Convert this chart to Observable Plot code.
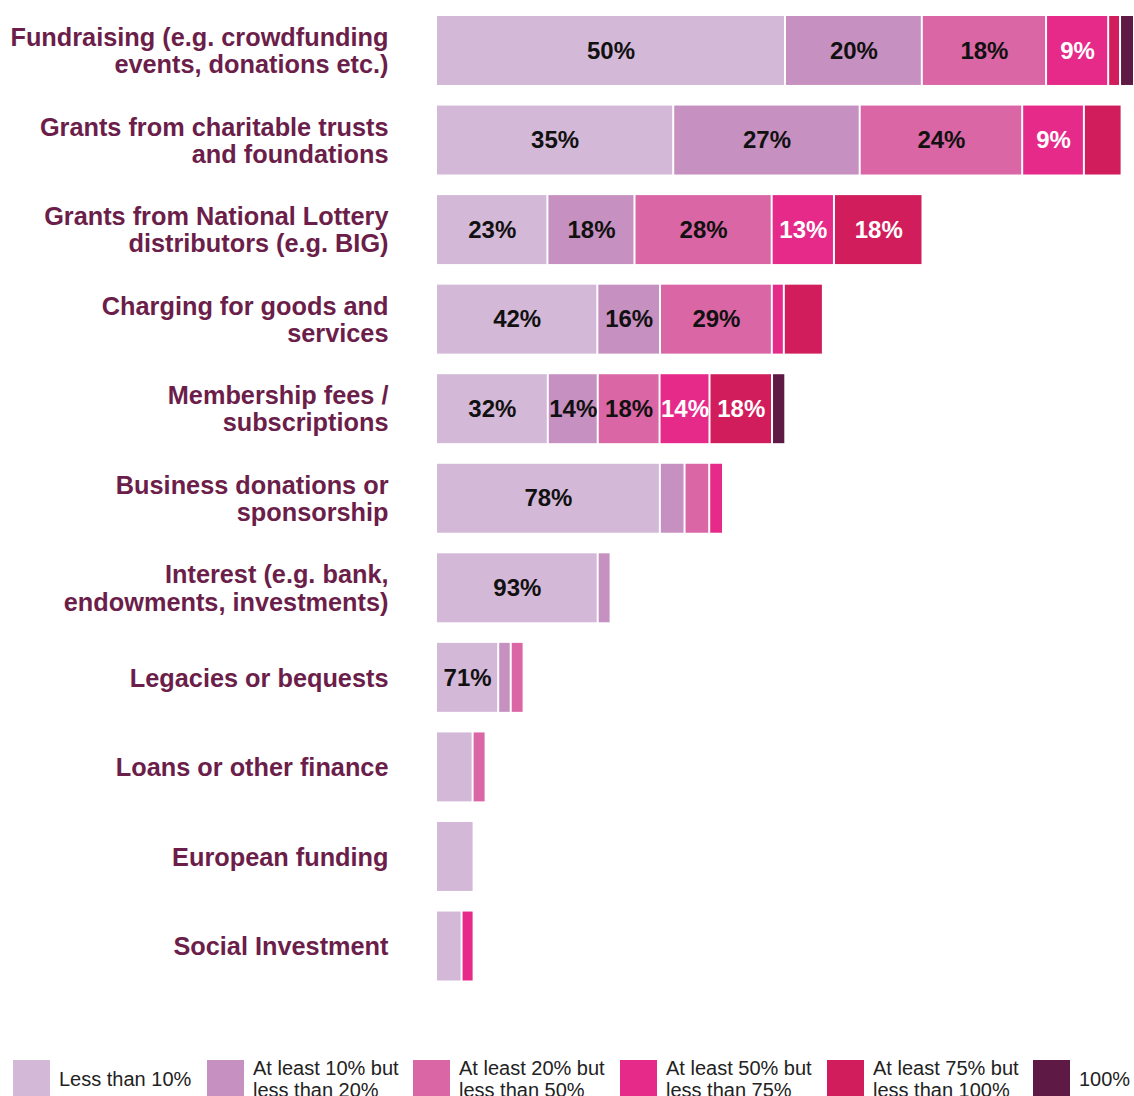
<!DOCTYPE html>
<html>
<head>
<meta charset="utf-8">
<script src="https://cdn.jsdelivr.net/npm/d3@7"></script>
<script src="https://cdn.jsdelivr.net/npm/@observablehq/plot@0.6"></script>
<style>
  html, body { margin: 0; padding: 0; background: #fff; }
  body { font-family: "Liberation Sans", Arial, sans-serif; width: 1134px; overflow: hidden; }
  #legend { position: relative; height: 60px; }
  .item { position: absolute; top: 20px; display: flex; align-items: center; height: 37px; }
  .sw { width: 37px; height: 37px; flex: none; }
  .lab { margin-left: 9px; font-size: 20px; line-height: 22px; color: #222; }
</style>
</head>
<body>
<div id="chart"></div>
<div id="legend"></div>
<script>
const categories = [
  "Less than 10%",
  "At least 10% but less than 20%",
  "At least 20% but less than 50%",
  "At least 50% but less than 75%",
  "At least 75% but less than 100%",
  "100%"
];
const legendLabels = [
  "Less than 10%",
  "At least 10% but\nless than 20%",
  "At least 20% but\nless than 50%",
  "At least 50% but\nless than 75%",
  "At least 75% but\nless than 100%",
  "100%"
];
const colors = ["#d4b8d8", "#c690c0", "#db66a5", "#e52a8a", "#d11d5b", "#5e1a44"];

const sources = [
  "Fundraising (e.g. crowdfunding\nevents, donations etc.)",
  "Grants from charitable trusts\nand foundations",
  "Grants from National Lottery\ndistributors (e.g. BIG)",
  "Charging for goods and\nservices",
  "Membership fees /\nsubscriptions",
  "Business donations or\nsponsorship",
  "Interest (e.g. bank,\nendowments, investments)",
  "Legacies or bequests",
  "Loans or other finance",
  "European funding",
  "Social Investment"
];
// relative number of organisations using each source (bar length)
const totals = [698, 685.6, 486.5, 386.9, 349.3, 287, 174.6, 87.6, 49.6, 37.6, 37.6];
// share (%) of those organisations, by proportion of income from the source
const shareLess10   = [50.0, 34.6, 22.9, 41.7, 32.0, 78.0, 92.6, 71.0, 73.8, 100, 68];
const share10to20   = [19.6, 27.2, 17.9, 16.2, 14.3, 8.6, 7.4, 14.3, 0, 0, 0];
const share20to50   = [17.8, 23.7, 28.2, 28.9, 17.7, 8.6, 0, 14.7, 26.2, 0, 0];
const share50to75   = [8.9, 9.0, 12.8, 3.1, 14.3, 4.8, 0, 0, 0, 0, 32];
const share75to100  = [1.7, 5.5, 18.2, 10.1, 17.9, 0, 0, 0, 0, 0, 0];
const share100      = [2.0, 0, 0, 0, 3.8, 0, 0, 0, 0, 0, 0];

const shareSeries = [shareLess10, share10to20, share20to50, share50to75, share75to100, share100];
const whiteText = new Set([categories[3], categories[4]]);
const minLabelWidth = 45;

const data = [];
sources.forEach((s, i) => {
  shareSeries.forEach((arr, j) => {
    const share = arr[i];
    if (share > 0) data.push({source: s, cat: categories[j], share, value: share * totals[i] / 100});
  });
});

const font = '"Liberation Sans", Arial, sans-serif';
const labelText = (white) => d =>
  (d.value >= minLabelWidth && whiteText.has(d.cat) === white) ? Math.round(d.share) + "%" : "";

const plot = Plot.plot({
  width: 1134,
  height: 1040,
  marginLeft: 437,
  marginRight: 0,
  marginTop: 5.7,
  marginBottom: 49.2,
  style: {fontFamily: font, background: "#fff"},
  x: {domain: [0, 697], axis: null},
  y: {domain: sources, paddingInner: 0.23, paddingOuter: 0.115, round: false, axis: null},
  color: {domain: categories, range: colors},
  marks: [
    Plot.barX(data, Plot.stackX({x: "value", y: "source", fill: "cat", order: categories, insetRight: 2})),
    Plot.text(data, Plot.stackX({x: "value", y: "source", z: "cat", order: categories,
      text: labelText(false), fill: "#111", fontSize: 24, fontWeight: "bold", dx: -1})),
    Plot.text(data, Plot.stackX({x: "value", y: "source", z: "cat", order: categories,
      text: labelText(true), fill: "#fff", fontSize: 24, fontWeight: "bold", dx: -1})),
    Plot.text(sources, {x: 0, y: d => d, text: d => d, dx: -49, textAnchor: "end",
      fontSize: 25.3, fontWeight: "bold", fill: "#6b1e4a", lineHeight: 1.07})
  ]
});
document.getElementById("chart").appendChild(plot);

const lefts = [13, 207, 413, 620, 827, 1033];
const legend = document.getElementById("legend");
categories.forEach((c, i) => {
  const item = document.createElement("div");
  item.className = "item";
  item.style.left = lefts[i] + "px";
  const sw = document.createElement("div");
  sw.className = "sw";
  sw.style.background = colors[i];
  const lab = document.createElement("div");
  lab.className = "lab";
  lab.innerHTML = legendLabels[i].split("\n").join("<br>");
  item.appendChild(sw);
  item.appendChild(lab);
  legend.appendChild(item);
});
</script>
</body>
</html>
